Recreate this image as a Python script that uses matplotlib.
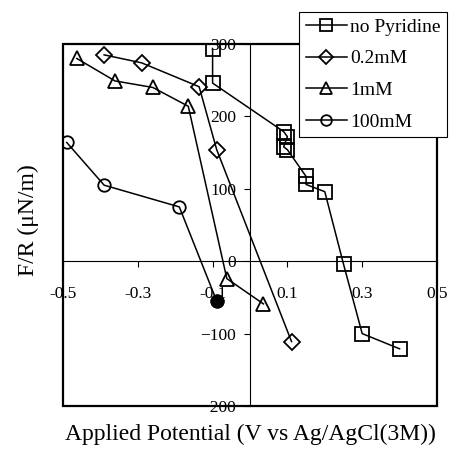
import matplotlib
matplotlib.use("Agg")
import matplotlib.pyplot as plt
from matplotlib.patches import Rectangle

plt.rcParams['font.family'] = ['Liberation Serif', 'DejaVu Serif']
plt.rcParams['mathtext.fontset'] = 'stix'

# Force/radius vs applied potential for several pyridine concentrations
no_pyr_x = [-0.1, -0.1, 0.09, 0.1, 0.09, 0.1, 0.15, 0.15, 0.2, 0.25, 0.3, 0.4]
no_pyr_y = [293, 246, 179, 172, 158, 154, 117, 106, 96, -4, -100, -121]

c02_x = [-0.39, -0.29, -0.136, -0.089, 0.111]
c02_y = [285, 274, 241, 154, -111]

c1_x = [-0.463, -0.361, -0.26, -0.165, -0.062, 0.036]
c1_y = [280, 249, 240, 214, -24, -59]

c100_x = [-0.49, -0.39, -0.189, -0.089]
c100_y = [164, 105, 75, -55]

labels = ["no Pyridine", "0.2mM", "1mM", "100mM"]
xticks = [-0.5, -0.3, -0.1, 0.1, 0.3, 0.5]
xticklabels = ["-0.5", "-0.3", "-0.1", "0.1", "0.3", "0.5"]
yticks = [-200, -100, 0, 100, 200, 300]

fig = plt.figure(figsize=(4.5, 4.53), dpi=100)
ax = fig.add_axes([63 / 450, 1 - 406 / 453, 374 / 450, 362 / 453])

common = dict(color='black', lw=1.1, mfc='none', mec='black', mew=1.3)
ax.plot(no_pyr_x, no_pyr_y, marker='s', ms=9.5, label=labels[0], **common)
ax.plot(c02_x, c02_y, marker='D', ms=8.5, label=labels[1], **common)
ax.plot(c1_x, c1_y, marker='^', ms=10, label=labels[2], **common)
ax.plot(c100_x, c100_y, marker='o', ms=9, label=labels[3], **common)
# last 100mM point drawn filled
ax.plot(c100_x[-1:], c100_y[-1:], marker='o', ms=9, color='black', ls='none')

ax.set_xlim(-0.5, 0.5)
ax.set_ylim(-200, 300)

# axis lines through the origin, frame drawn separately
ax.spines['left'].set_position(('data', 0))
ax.spines['bottom'].set_position(('data', 0))
for s in ('left', 'bottom'):
    ax.spines[s].set_linewidth(0.8)
for s in ('top', 'right'):
    ax.spines[s].set_visible(False)
ax.add_patch(Rectangle((0, 0), 1, 1, transform=ax.transAxes, fill=False,
                       lw=1.6, ec='black', clip_on=False, zorder=5))

ax.set_xticks(xticks)
ax.set_xticklabels(xticklabels)
ax.set_yticks(yticks)
ax.tick_params(axis='x', direction='out', length=4, width=0.8, pad=14, labelsize=12.5)
ax.tick_params(axis='y', direction='out', length=4, width=0.8, pad=6, labelsize=12.5)

ax.set_xlabel("Applied Potential (V vs Ag/AgCl(3M))", fontsize=17)
ax.xaxis.set_label_coords(0.5, -0.048)
ax.set_ylabel("F/R (μN/m)", fontsize=17)
ax.yaxis.set_label_coords(-0.065, 0.514)

leg = ax.legend(loc='upper right', bbox_to_anchor=(447 / 450, 1 - 12 / 453),
                bbox_transform=fig.transFigure, fontsize=14, frameon=True,
                fancybox=False, edgecolor='black', framealpha=1,
                handlelength=2.15, borderpad=0.32, labelspacing=0.72,
                handletextpad=0.15, borderaxespad=0, markerscale=0.85)
leg.get_frame().set_linewidth(0.8)
leg.set_zorder(10)

fig.savefig("out.png", dpi=100)
